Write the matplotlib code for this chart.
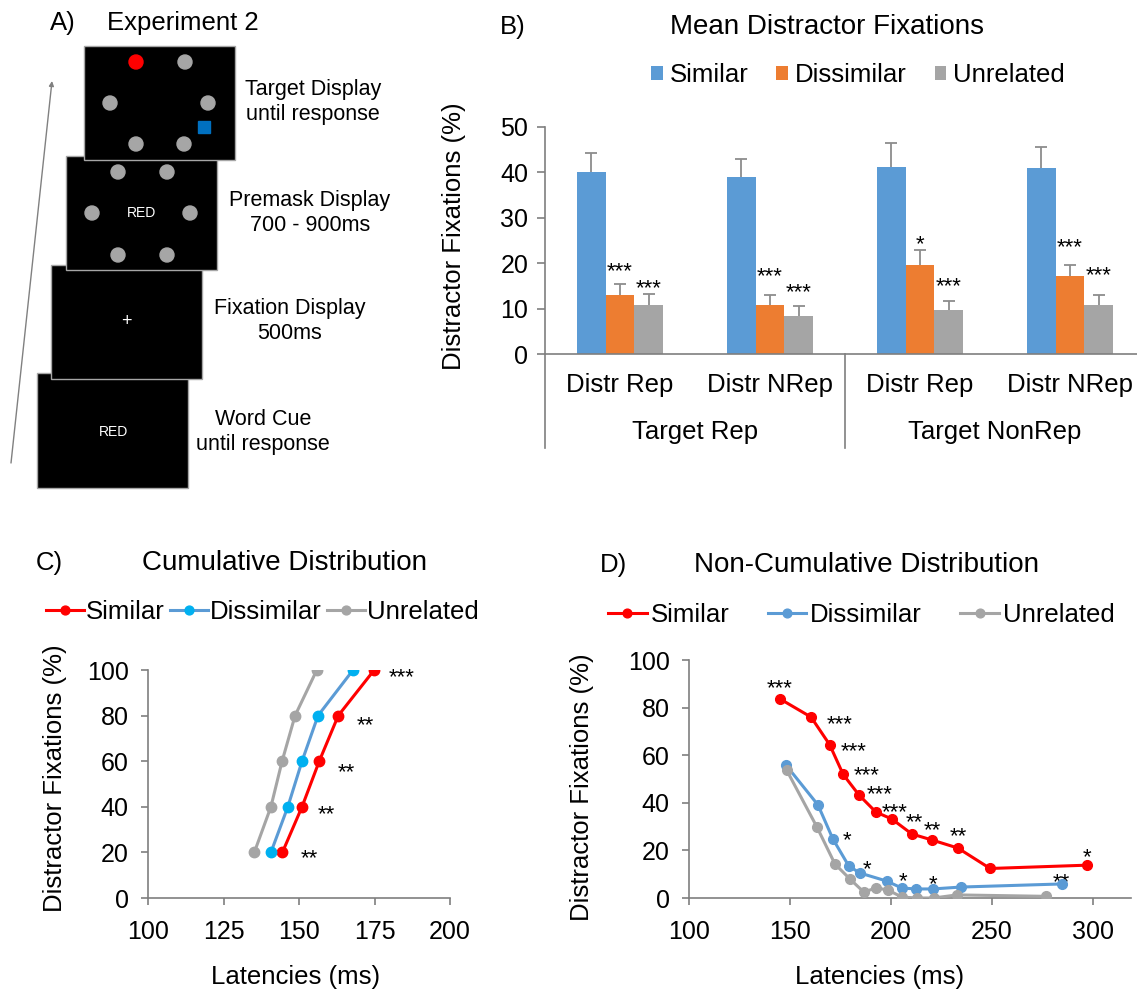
import matplotlib
matplotlib.use('Agg')
import matplotlib.pyplot as plt
from matplotlib.patches import Rectangle, Circle
from matplotlib.transforms import blended_transform_factory
import numpy as np

plt.rcParams['font.family'] = ['Liberation Sans', 'DejaVu Sans']

# ---------------- data ----------------
# Panel B
b_groups = ['Distr Rep', 'Distr NRep', 'Distr Rep', 'Distr NRep']
b_super = ['Target Rep', 'Target NonRep']
b_series = ['Similar', 'Dissimilar', 'Unrelated']
b_similar = [40.1, 39.0, 41.2, 41.0]
b_similar_err = [4.2, 3.9, 5.3, 4.7]
b_dissimilar = [12.9, 10.9, 19.7, 17.2]
b_dissimilar_err = [2.6, 2.2, 3.2, 2.4]
b_unrelated = [10.8, 8.4, 9.7, 10.9]
b_unrelated_err = [2.5, 2.2, 2.0, 2.2]
b_sig_dissimilar = ['***', '***', '*', '***']
b_sig_dissimilar_y = [19.7, 18.6, 25.6, 24.9]
b_sig_unrelated = ['***', '***', '***', '***']
b_sig_unrelated_y = [15.9, 15.0, 16.4, 18.8]

# Panel C (cumulative)
c_quantiles = [20, 40, 60, 80, 100]
c_similar = [144.5, 151.0, 156.7, 163.0, 174.9]
c_dissimilar = [140.7, 146.3, 151.0, 156.3, 167.9]
c_unrelated = [135.2, 140.7, 144.4, 148.7, 155.9]
c_sig_text = ['**', '**', '**', '**', '***']
c_sig_x = [153.4, 159.0, 165.6, 172.0, 183.9]
c_sig_y = [20.4, 39.9, 58.3, 78.5, 99.6]

# Panel D (non-cumulative)
d_similar_x = [145.0, 160.5, 169.7, 176.4, 184.2, 192.6, 200.5, 210.4, 220.3, 233.2, 249.2, 297.4]
d_similar_y = [83.7, 76.0, 64.4, 51.9, 43.3, 36.1, 33.2, 26.9, 24.4, 21.0, 12.4, 13.8]
d_dissimilar_x = [148.1, 163.9, 171.3, 179.2, 184.7, 198.0, 205.4, 212.4, 220.8, 234.7, 284.6]
d_dissimilar_y = [55.8, 39.1, 24.8, 13.4, 10.5, 7.1, 4.2, 3.8, 3.8, 4.6, 5.9]
d_unrelated_x = [148.4, 163.4, 172.3, 179.7, 186.6, 192.6, 198.5, 205.4, 212.9, 221.3, 232.7, 277.0]
d_unrelated_y = [53.7, 29.8, 14.3, 8.0, 2.5, 4.2, 3.4, 0.4, 0.0, 0.0, 1.3, 0.7]
d_sig_text = ['***', '***', '***', '***', '***', '***', '**', '**', '**', '*',
              '*', '*', '*', '*', '**']
d_sig_x = [144.8, 174.6, 181.4, 187.8, 194.6, 202.0, 211.4, 220.8, 233.2, 297.4,
           178.2, 188.1, 205.9, 220.8, 284.6]
d_sig_y = [90.9, 76.0, 64.4, 54.3, 46.6, 39.0, 34.5, 31.1, 28.6, 20.1,
           26.9, 15.1, 9.7, 8.8, 9.6]

# ---------------- style ----------------
W, H = 1137, 990
FS = 18.5
TICK_FS = 18
TITLE_FS = 20
STAR_FS = 16
SPINE = '#7f7f7f'
BLUE_B, ORANGE_B, GRAY_B = '#5B9BD5', '#ED7D31', '#A5A5A5'
RED, CYAN, BLUE, GRAY = '#FF0000', '#00B0F0', '#5B9BD5', '#A5A5A5'

fig = plt.figure(figsize=(W / 100, H / 100), dpi=100)


def pax(l, t, r, b):
    return fig.add_axes([l / W, 1 - b / H, (r - l) / W, (b - t) / H])


def ftext(x, y, s, **kw):
    return fig.text(x / W, 1 - y / H, s, **kw)


def style_axes(ax):
    for s in ['top', 'right']:
        ax.spines[s].set_visible(False)
    for s in ['left', 'bottom']:
        ax.spines[s].set_color(SPINE)
        ax.spines[s].set_linewidth(1.2)
    ax.tick_params(direction='out', length=5, width=1.2, color=SPINE,
                   labelsize=TICK_FS, labelcolor='black')


def star(ax, x, y, s):
    ax.annotate(s, (x, y), xytext=(0, -0.57 * STAR_FS), textcoords='offset points',
                ha='center', va='baseline', fontsize=STAR_FS, annotation_clip=False)


# ---------------- Panel A (schematic) ----------------
axA = pax(0, 0, 420, 500)
axA.set_xlim(0, 420)
axA.set_ylim(500, 0)
axA.axis('off')
screens = [(37, 373, 188, 488), (51, 265, 202, 379), (66, 156, 217, 270), (84, 46, 235, 160)]
for i, (l, t, r, b) in enumerate(screens):
    axA.add_patch(Rectangle((l, t), r - l, b - t, facecolor='black', edgecolor='#a6a6a6',
                            lw=1, zorder=2 + i))
z_top = 10
for (cx, cy) in [(185, 62), (110, 103), (208, 103), (136, 144), (184, 144)]:
    axA.add_patch(Circle((cx, cy), 7, color='#A6A6A6', zorder=z_top))
axA.add_patch(Circle((136, 62), 7, color='#FF0000', zorder=z_top))
axA.add_patch(Rectangle((198, 121), 12, 12, color='#0070C0', zorder=z_top))
for (cx, cy) in [(118, 172), (167, 172), (92, 213), (190, 213), (118, 255), (167, 255)]:
    axA.add_patch(Circle((cx, cy), 7, color='#A6A6A6', zorder=4.5))
axA.text(141, 213, 'RED', color='white', fontsize=10, ha='center', va='center', zorder=4.5)
axA.text(126, 322, '+', color='white', fontsize=13, ha='center', va='center', zorder=3.5)
axA.text(113, 432, 'RED', color='white', fontsize=10, ha='center', va='center', zorder=2.5)
for (tx, ty, s) in [(313, 102, 'Target Display\nuntil response'),
                    (310, 213, 'Premask Display\n700 - 900ms'),
                    (290, 321, 'Fixation Display\n500ms'),
                    (263, 432, 'Word Cue\nuntil response')]:
    axA.text(tx, ty, s, fontsize=15.5, ha='center', va='center', linespacing=1.3)
axA.annotate('', xy=(52, 81), xytext=(11, 463),
             arrowprops=dict(arrowstyle='-|>', color='#808080', lw=1.0, mutation_scale=7,
                             shrinkA=0, shrinkB=0))
ftext(50, 23, 'A)', fontsize=FS, ha='left', va='center')
ftext(107, 23, 'Experiment 2', fontsize=FS, ha='left', va='center')

# ---------------- Panel B ----------------
axB = pax(545, 127, 1145, 354)
style_axes(axB)
xb = np.arange(len(b_groups))
bw = 0.193
series = [(b_similar, b_similar_err, BLUE_B), (b_dissimilar, b_dissimilar_err, ORANGE_B),
          (b_unrelated, b_unrelated_err, GRAY_B)]
for k, (vals, errs, col) in enumerate(series):
    xs = xb + (k - 1) * bw
    vals = np.asarray(vals)
    errs = np.asarray(errs)
    axB.bar(xs, vals, width=bw, color=col, label=b_series[k], zorder=2)
    axB.vlines(xs, vals, vals + errs, color='#8c8c8c', lw=1.3, zorder=3)
    axB.plot(xs, vals + errs, linestyle='none', marker='_', ms=8, mew=1.3,
             color='#8c8c8c', zorder=3)
for i in range(len(b_groups)):
    star(axB, xb[i], b_sig_dissimilar_y[i], b_sig_dissimilar[i])
    star(axB, xb[i] + bw, b_sig_unrelated_y[i], b_sig_unrelated[i])
axB.set_xlim(-0.5, 3.5)
axB.set_ylim(0, 50)
axB.set_yticks(np.arange(0, 51, 10))
axB.tick_params(axis='y', length=6, pad=6)
axB.tick_params(axis='x', length=0, labelbottom=False)
trB = blended_transform_factory(axB.transData, axB.transAxes)
axh = 227.0
for i, g in enumerate(b_groups):
    axB.text(xb[i], -31 / axh, g, transform=trB, ha='center', va='center', fontsize=FS)
for j, s in enumerate(b_super):
    axB.text(2 * j + 0.5, -78 / axh, s, transform=trB, ha='center', va='center', fontsize=FS)
for xv in [-0.5, 1.5, 3.5]:
    axB.plot([xv, xv], [0, -94 / axh], transform=trB, color=SPINE, lw=1.2, clip_on=False)
axB.legend(loc='center left', bbox_to_anchor=(651 / W, 1 - 75 / H),
           bbox_transform=fig.transFigure, ncol=3, frameon=False, fontsize=FS,
           handlelength=0.46, handleheight=0.5, handletextpad=0.27, columnspacing=1.08,
           borderpad=0, borderaxespad=0)
ftext(454, 236, 'Distractor Fixations (%)', rotation=90, fontsize=FS, ha='center', va='center')
ftext(500, 27, 'B)', fontsize=FS, ha='left', va='center')
ftext(827, 27, 'Mean Distractor Fixations', fontsize=TITLE_FS, ha='center', va='center')

# ---------------- Panel C ----------------
axC = pax(148, 670, 450, 898)
style_axes(axC)
axC.plot(c_similar, c_quantiles, '-o', color=RED, mfc=RED, mec=RED, lw=2.2, ms=7.5,
         label='Similar', zorder=3)
axC.plot(c_dissimilar, c_quantiles, '-o', color=BLUE, mfc=CYAN, mec=CYAN, lw=2.2, ms=7.5,
         label='Dissimilar', zorder=4)
axC.plot(c_unrelated, c_quantiles, '-o', color=GRAY, mfc=GRAY, mec=GRAY, lw=2.2, ms=7.5,
         label='Unrelated', zorder=5)
for x, y, s in zip(c_sig_x, c_sig_y, c_sig_text):
    star(axC, x, y, s)
axC.set_xlim(100, 200)
axC.set_ylim(0, 100)
axC.set_xticks(np.arange(100, 201, 25))
axC.set_yticks(np.arange(0, 101, 20))
axC.tick_params(axis='x', pad=11)
axC.tick_params(axis='y', pad=9)
axC.legend(loc='center left', bbox_to_anchor=(46 / W, 1 - 612 / H),
           bbox_transform=fig.transFigure, ncol=3, frameon=False, fontsize=FS,
           handlelength=1.46, handletextpad=0.08, columnspacing=0.23,
           borderpad=0, borderaxespad=0, markerscale=0.85)
ftext(55, 778, 'Distractor Fixations (%)', rotation=90, fontsize=FS, ha='center', va='center')
ftext(296, 977, 'Latencies (ms)', fontsize=FS, ha='center', va='center')
ftext(36, 563, 'C)', fontsize=FS, ha='left', va='center')
ftext(285, 563, 'Cumulative Distribution', fontsize=TITLE_FS, ha='center', va='center')

# ---------------- Panel D ----------------
axD = pax(689, 660, 1131, 898)
style_axes(axD)
axD.plot(d_similar_x, d_similar_y, '-o', color=RED, lw=2.2, ms=7, label='Similar', zorder=3)
axD.plot(d_dissimilar_x, d_dissimilar_y, '-o', color=BLUE, lw=2.2, ms=7, label='Dissimilar',
         zorder=4)
axD.plot(d_unrelated_x, d_unrelated_y, '-o', color=GRAY, lw=2.2, ms=7, label='Unrelated',
         zorder=5)
for x, y, s in zip(d_sig_x, d_sig_y, d_sig_text):
    star(axD, x, y, s)
axD.set_xlim(100, 319)
axD.set_ylim(0, 100)
axD.set_xticks(np.arange(100, 301, 50))
axD.set_yticks(np.arange(0, 101, 20))
axD.tick_params(axis='x', pad=11)
axD.tick_params(axis='y', pad=9)
axD.legend(loc='center left', bbox_to_anchor=(608 / W, 1 - 615 / H),
           bbox_transform=fig.transFigure, ncol=3, frameon=False, fontsize=FS,
           handlelength=1.5, handletextpad=0.15, columnspacing=1.5,
           borderpad=0, borderaxespad=0, markerscale=0.9)
ftext(582, 787, 'Distractor Fixations (%)', rotation=90, fontsize=FS, ha='center', va='center')
ftext(880, 977, 'Latencies (ms)', fontsize=FS, ha='center', va='center')
ftext(600, 565, 'D)', fontsize=FS, ha='left', va='center')
ftext(866, 565, 'Non-Cumulative Distribution', fontsize=TITLE_FS, ha='center', va='center')

fig.savefig('out.png', dpi=100)
